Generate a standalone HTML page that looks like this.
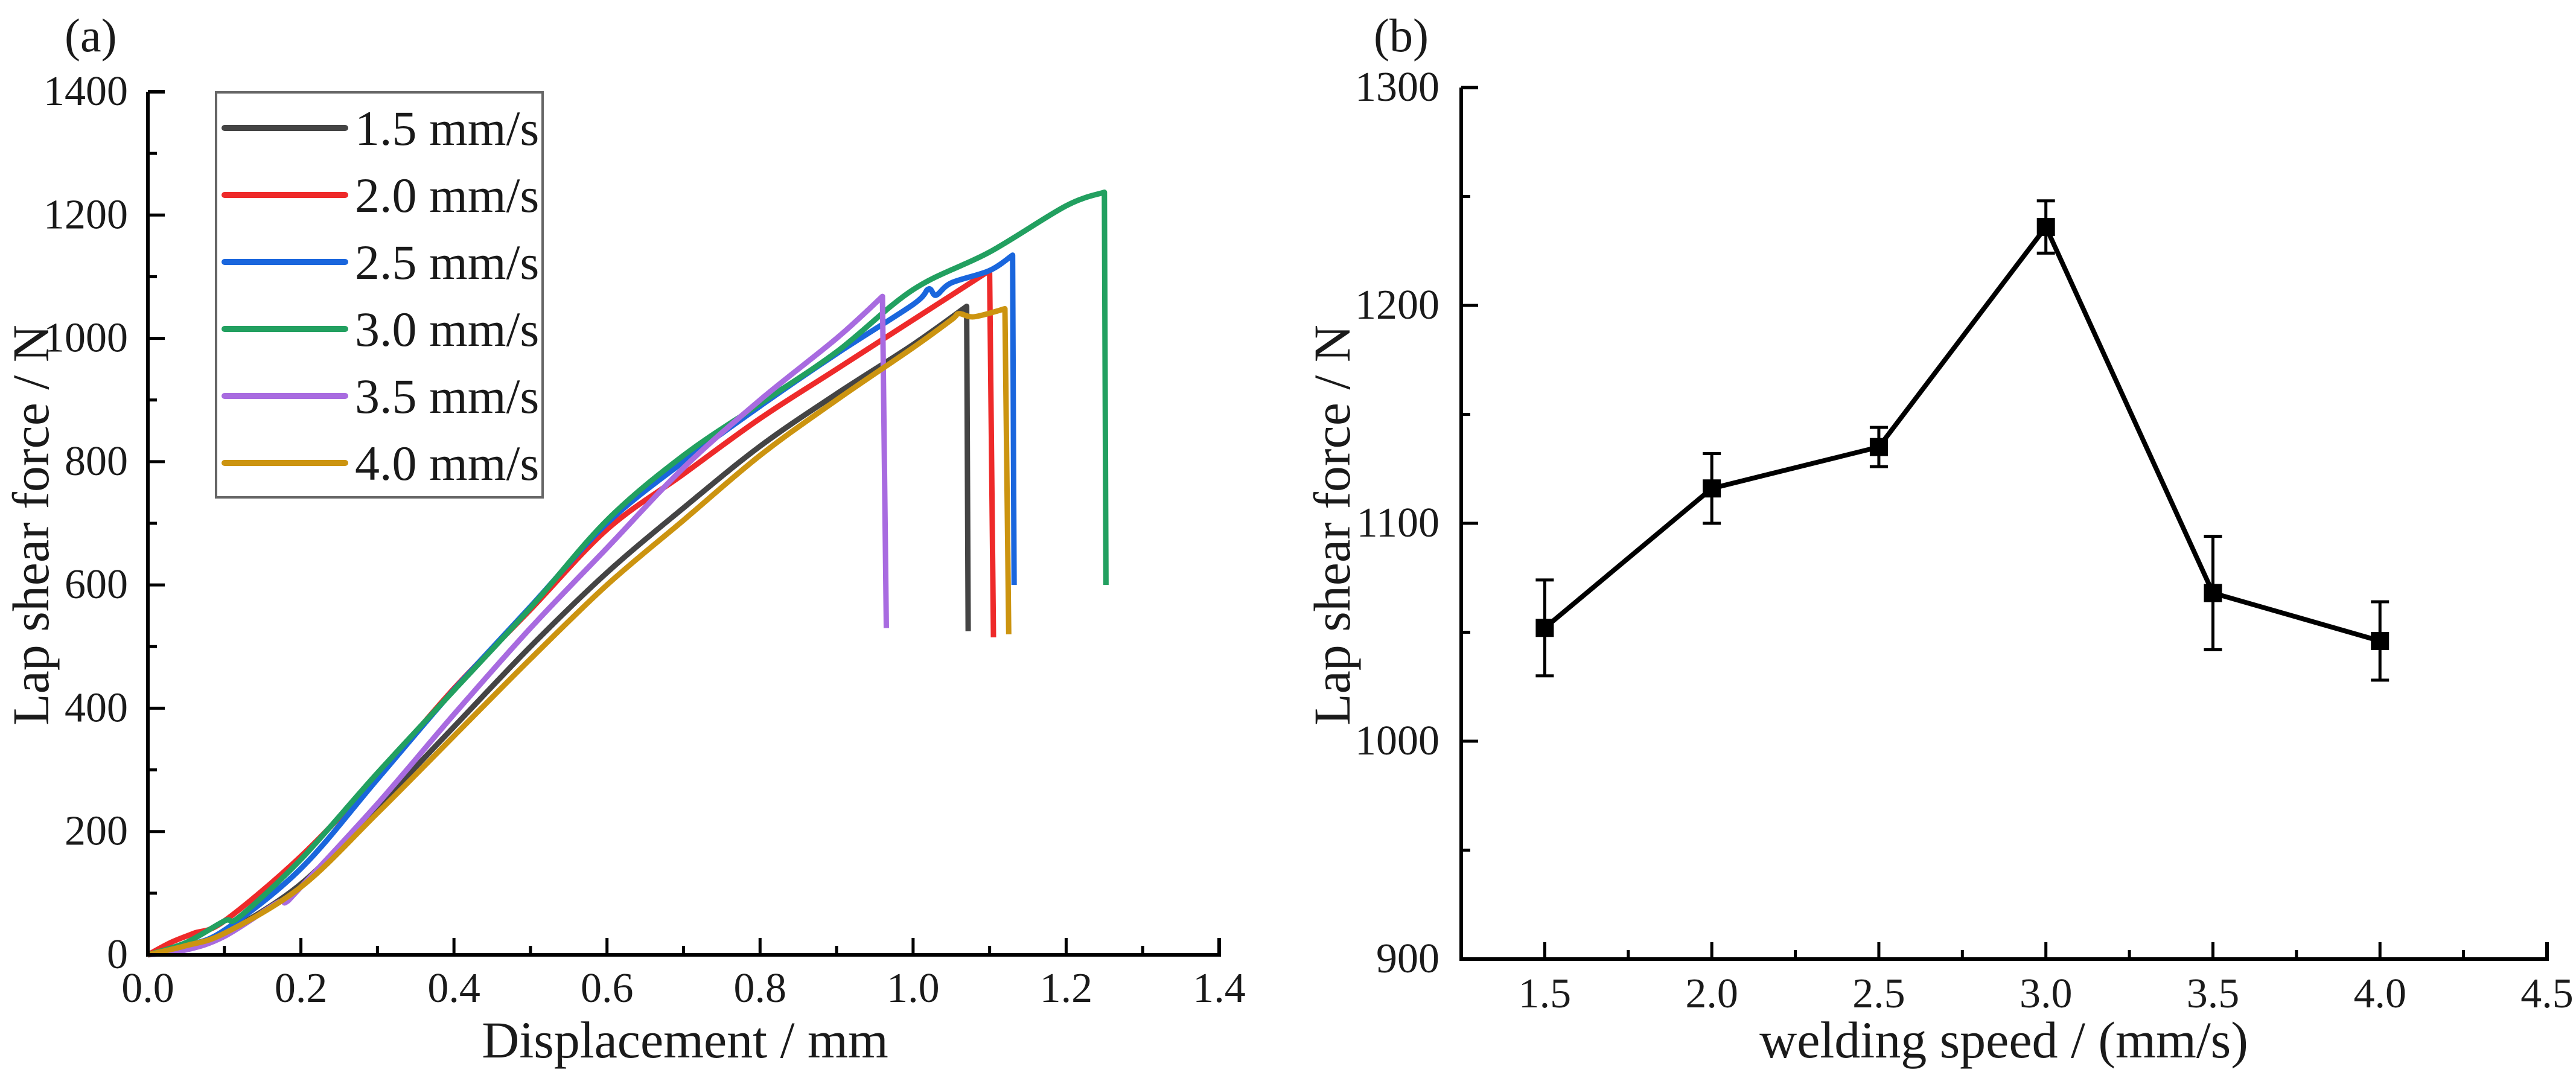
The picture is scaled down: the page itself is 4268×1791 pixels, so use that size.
<!DOCTYPE html>
<html><head><meta charset="utf-8"><style>
html,body{margin:0;padding:0;background:#fff;}
svg{display:block;}
text{font-family:"Liberation Serif",serif;fill:#1a1a1a;}
</style></head><body>
<svg id="fig" width="4268" height="1791" viewBox="0 0 4268 1791" xmlns="http://www.w3.org/2000/svg">
<g id="pa"></g>
<g id="pb"></g>
</svg>
<script>
// ---------- Panel (a) data ----------
const aLabels = ["1.5 mm/s","2.0 mm/s","2.5 mm/s","3.0 mm/s","3.5 mm/s","4.0 mm/s"];
const aColors = ["#444444","#ee2a2a","#1a66dd","#22a060","#a86be0","#cc9410"];
const aXTicks = [0,0.2,0.4,0.6,0.8,1.0,1.2,1.4];
const aYTicks = [0,200,400,600,800,1000,1200,1400];
const s15x = [0,0.05,0.1,0.2,0.3,0.4,0.5,0.6,0.7,0.8,0.9,1.0,1.07,1.072];
const s15y = [0,12,35,115,240,370,500,620,725,825,910,990,1052,525];
const s20x = [0,0.03,0.06,0.1,0.2,0.3,0.4,0.5,0.6,0.7,0.8,0.9,1.0,1.05,1.1,1.105];
const s20y = [0,20,35,55,160,290,432,560,690,780,870,950,1030,1070,1110,515];
const s25x = [0,0.05,0.1,0.2,0.3,0.4,0.5,0.6,0.7,0.8,0.9,1.0,1.02,1.03,1.05,1.1,1.13,1.132];
const s25y = [0,15,40,140,285,430,565,700,800,890,975,1055,1080,1070,1090,1110,1135,600];
const s30x = [0,0.05,0.1,0.12,0.2,0.3,0.4,0.5,0.6,0.7,0.8,0.9,1.0,1.1,1.2,1.25,1.252];
const s30y = [0,20,55,62,155,295,429,563,705,810,894,978,1079,1140,1215,1237,600];
const s35x = [0,0.05,0.1,0.17,0.18,0.2,0.3,0.4,0.5,0.6,0.7,0.8,0.9,0.96,0.965];
const s35y = [0,8,30,85,85,110,245,390,530,660,790,900,1000,1068,530];
const s40x = [0,0.05,0.1,0.2,0.3,0.4,0.5,0.6,0.7,0.8,0.9,1.0,1.05,1.06,1.08,1.12,1.125];
const s40y = [0,15,35,110,230,355,480,600,705,810,900,985,1030,1040,1035,1048,520];
const aSeriesX = [s15x,s20x,s25x,s30x,s35x,s40x];
const aSeriesY = [s15y,s20y,s25y,s30y,s35y,s40y];

// ---------- Panel (b) data ----------
const bSpeeds = [1.5,2.0,2.5,3.0,3.5,4.0];
const bForce = [1052,1116,1135,1236,1068,1046];
const bErrLow = [1030,1100,1126,1224,1042,1028];
const bErrHigh = [1074,1132,1144,1248,1094,1064];
const bXTicks = [1.5,2.0,2.5,3.0,3.5,4.0,4.5];
const bYTicks = [900,1000,1100,1200,1300];

const NS="http://www.w3.org/2000/svg";
function mk(parent,tag,attrs,txt){const e=document.createElementNS(NS,tag);for(const k in attrs)e.setAttribute(k,attrs[k]);if(txt!==undefined)e.textContent=txt;parent.appendChild(e);return e;}

// smooth path (Catmull-Rom) for all but final drop segment
function smoothPath(pts){
  const n=pts.length-1; // last point is the drop
  let d='M'+pts[0][0].toFixed(1)+' '+pts[0][1].toFixed(1);
  for(let i=0;i<n-1;i++){
    const p0=pts[Math.max(i-1,0)],p1=pts[i],p2=pts[i+1],p3=pts[Math.min(i+2,n-1)];
    const c1x=p1[0]+(p2[0]-p0[0])/6,c1y=p1[1]+(p2[1]-p0[1])/6;
    const c2x=p2[0]-(p3[0]-p1[0])/6,c2y=p2[1]-(p3[1]-p1[1])/6;
    d+=` C${c1x.toFixed(1)} ${c1y.toFixed(1)} ${c2x.toFixed(1)} ${c2y.toFixed(1)} ${p2[0].toFixed(1)} ${p2[1].toFixed(1)}`;
  }
  d+=' L'+pts[n][0].toFixed(1)+' '+pts[n][1].toFixed(1);
  return d;
}

// ===== Panel a =====
const pa=document.getElementById('pa');
const ax0=245, ax1=2020, ay0=1582, ay1=152;
const axX=v=>ax0+(v-0)/(1.4-0)*(ax1-ax0);
const axY=v=>ay0-(v-0)/(1400-0)*(ay0-ay1);
let t;
t=mk(pa,'text',{x:107,y:85,'font-size':78});t.textContent="(a)";


for(let s=0;s<aSeriesX.length;s++){
  const pts=aSeriesX[s].map((x,i)=>[axX(x),axY(aSeriesY[s][i])]);
  const p=mk(pa,'path',{d:smoothPath(pts),fill:'none',stroke:aColors[s],'stroke-width':9,'stroke-linejoin':'round'});
  
  
}
const aAxes=mk(pa,'path',{d:`M${ax0} ${ay1} L${ax0} ${ay0} L${ax1} ${ay0} L${ax1} ${ay0-28}`,fill:'none',stroke:'#000','stroke-width':6});


mk(pa,'line',{x1:ax0,y1:ay1,x2:ax0+28,y2:ay1,stroke:'#000','stroke-width':6});
aXTicks.forEach((v,i)=>{
  const x=axX(v);
  if(i>0&&i<aXTicks.length-1) mk(pa,'line',{x1:x,y1:ay0,x2:x,y2:ay0-28,stroke:'#000','stroke-width':5});
  if(i<aXTicks.length-1){const xm=axX(v+0.1);mk(pa,'line',{x1:xm,y1:ay0,x2:xm,y2:ay0-15,stroke:'#000','stroke-width':5});}
  const tl=mk(pa,'text',{x:x,y:ay0+78,'font-size':70,'text-anchor':'middle'},v.toFixed(1));
  
  
});
aYTicks.forEach((v,i)=>{
  const y=axY(v);
  if(i>0&&i<aYTicks.length-1) mk(pa,'line',{x1:ax0,y1:y,x2:ax0+28,y2:y,stroke:'#000','stroke-width':5});
  if(i<aYTicks.length-1){const ym=axY(v+100);mk(pa,'line',{x1:ax0,y1:ym,x2:ax0+15,y2:ym,stroke:'#000','stroke-width':5});}
  const tl=mk(pa,'text',{x:212,y:y+22,'font-size':70,'text-anchor':'end'},String(v));
  
  
});
t=mk(pa,'text',{x:1135,y:1752,'font-size':86,'text-anchor':'middle'},"Displacement / mm");


t=mk(pa,'text',{x:0,y:0,'font-size':86,'text-anchor':'middle',transform:'translate(80,870) rotate(-90)'},"Lap shear force / N");


const lg=mk(pa,'g',{});


mk(lg,'rect',{x:358,y:153,width:541,height:671,fill:'#fff',stroke:'#666','stroke-width':4});
aLabels.forEach((lab,i)=>{
  const y=212+i*111;
  const le=mk(lg,'g',{});
  
  
  mk(le,'line',{x1:372,y1:y,x2:572,y2:y,stroke:aColors[i],'stroke-width':10,'stroke-linecap':'round'});
  mk(le,'text',{x:588,y:y+28,'font-size':82},lab);
});

// ===== Panel b =====
const pb=document.getElementById('pb');
const bx0=2421, bx1=4220, by0=1589, by1=145;
const bxX=v=>bx0+(v-1.25)/(4.5-1.25)*(bx1-bx0);
const byY=v=>by0-(v-900)/(1300-900)*(by0-by1);
t=mk(pb,'text',{x:2276,y:85,'font-size':78},"(b)");


const bAxes=mk(pb,'path',{d:`M${bx0} ${by1} L${bx0} ${by0} L${bx1} ${by0} L${bx1} ${by0-28}`,fill:'none',stroke:'#000','stroke-width':6});


mk(pb,'line',{x1:bx0,y1:by1,x2:bx0+28,y2:by1,stroke:'#000','stroke-width':6});
bXTicks.forEach((v,i)=>{
  const x=bxX(v);
  if(i<bXTicks.length-1) mk(pb,'line',{x1:x,y1:by0,x2:x,y2:by0-28,stroke:'#000','stroke-width':5});
  const xm=bxX(v-0.25);mk(pb,'line',{x1:xm,y1:by0,x2:xm,y2:by0-15,stroke:'#000','stroke-width':5});
  const tl=mk(pb,'text',{x:x,y:by0+80,'font-size':70,'text-anchor':'middle'},v.toFixed(1));
  
  
});
bYTicks.forEach((v,i)=>{
  const y=byY(v);
  if(i>0&&i<bYTicks.length-1) mk(pb,'line',{x1:bx0,y1:y,x2:bx0+28,y2:y,stroke:'#000','stroke-width':5});
  if(i<bYTicks.length-1){const ym=byY(v+50);mk(pb,'line',{x1:bx0,y1:ym,x2:bx0+15,y2:ym,stroke:'#000','stroke-width':5});}
  const tl=mk(pb,'text',{x:2385,y:y+22,'font-size':70,'text-anchor':'end'},String(v));
  
  
});
const line=mk(pb,'path',{d:bSpeeds.map((s,i)=>(i?'L':'M')+bxX(s).toFixed(1)+' '+byY(bForce[i]).toFixed(1)).join(' '),fill:'none',stroke:'#000','stroke-width':8,'stroke-linejoin':'round'});


bSpeeds.forEach((s,i)=>{
  const x=bxX(s), yl=byY(bErrLow[i]), yh=byY(bErrHigh[i]), y=byY(bForce[i]);
  const eb=mk(pb,'path',{d:`M${x} ${yl} L${x} ${yh} M${x-15} ${yl} L${x+15} ${yl} M${x-15} ${yh} L${x+15} ${yh}`,stroke:'#000','stroke-width':5,fill:'none'});
  
  
  const m=mk(pb,'rect',{x:x-15,y:y-15,width:30,height:30,fill:'#000'});
  
  
});
t=mk(pb,'text',{x:3320,y:1752,'font-size':86,'text-anchor':'middle'},"welding speed / (mm/s)");


t=mk(pb,'text',{x:0,y:0,'font-size':86,'text-anchor':'middle',transform:'translate(2236,870) rotate(-90)'},"Lap shear force / N");


</script>
</body></html>
